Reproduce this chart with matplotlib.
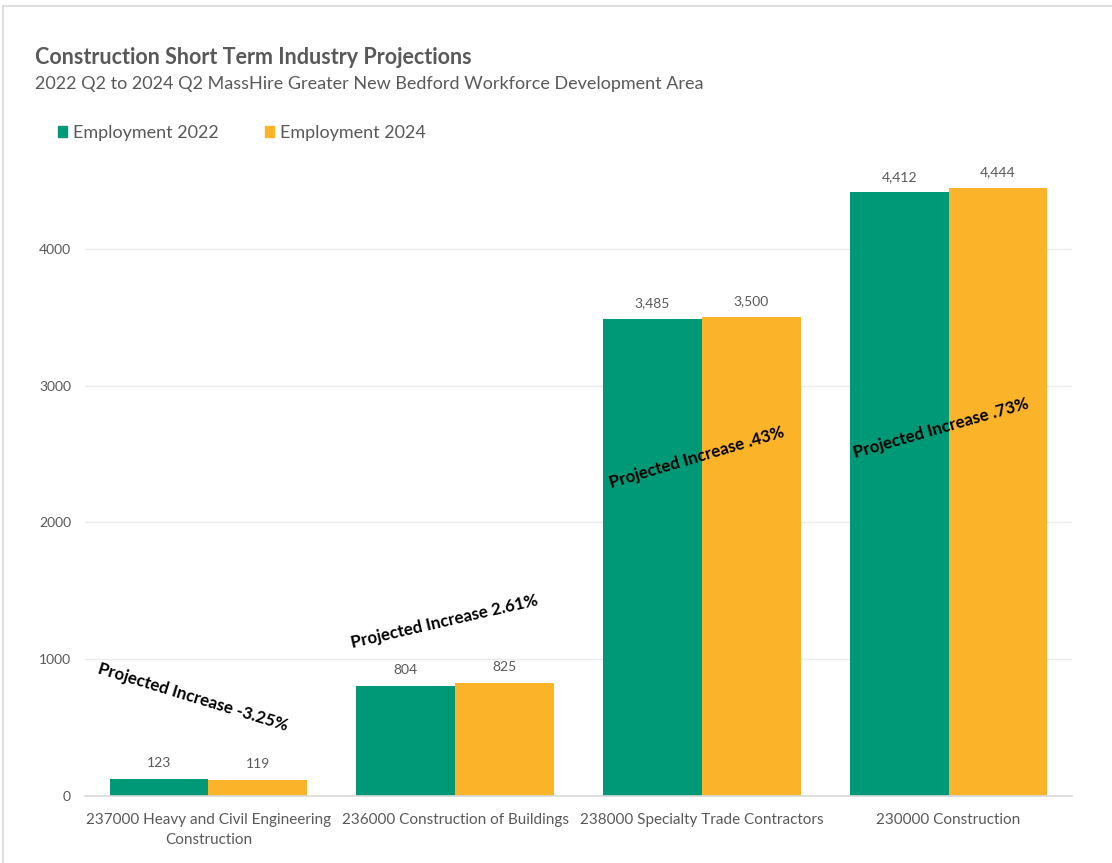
import matplotlib
matplotlib.use("Agg")
import matplotlib.pyplot as plt
from matplotlib.lines import Line2D
from matplotlib.patches import Patch
import numpy as np

plt.rcParams['font.family'] = ['Lato', 'DejaVu Sans']

categories = [
    "237000 Heavy and Civil Engineering\nConstruction",
    "236000 Construction of Buildings",
    "238000 Specialty Trade Contractors",
    "230000 Construction",
]
employment_2022 = [123, 804, 3485, 4412]
employment_2024 = [119, 825, 3500, 4444]
series_names = ["Employment 2022", "Employment 2024"]
change_labels = [
    "Projected Increase -3.25%",
    "Projected Increase 2.61%",
    "Projected Increase .43%",
    "Projected Increase .73%",
]
yticks = [0, 1000, 2000, 3000, 4000]

GREEN = "#009977"
ORANGE = "#FBB429"
GRAY = "#595959"

W, H = 1112, 863
fig = plt.figure(figsize=(W / 100, H / 100), dpi=100)

# axes placement in pixels: left 85, right 1072, bottom 796, top 153
ax = fig.add_axes([85 / W, 1 - 796 / H, (1072 - 85) / W, (796 - 153) / H])

x = np.arange(len(categories))
bw = 0.4
b1 = ax.bar(x - bw / 2, employment_2022, bw, color=GREEN, label=series_names[0])
b2 = ax.bar(x + bw / 2, employment_2024, bw, color=ORANGE, label=series_names[1])

for bars, vals in ((b1, employment_2022), (b2, employment_2024)):
    for rect, v in zip(bars, vals):
        ax.annotate(f"{v:,}", (rect.get_x() + rect.get_width() / 2, v),
                    xytext=(0, 7), textcoords="offset points",
                    ha="center", va="bottom", fontsize=10, color=GRAY)

ax.set_xlim(-0.5, len(categories) - 0.5)
ax.set_ylim(0, 4700)
ax.set_yticks(yticks)
ax.set_yticklabels([str(t) for t in yticks])
ax.set_xticks(x)
ax.set_xticklabels(categories, fontsize=11, color=GRAY, linespacing=1.55)
ax.tick_params(axis="y", colors=GRAY, labelsize=10, length=0, pad=10)
ax.tick_params(axis="x", length=0, pad=12)
ax.yaxis.grid(True, color="#EBEBEB", linewidth=1)
ax.set_axisbelow(True)
for s in ("top", "right", "left"):
    ax.spines[s].set_visible(False)
ax.spines["bottom"].set_color("#D9D9D9")
ax.spines["bottom"].set_linewidth(1.2)

# rotated change annotations (data coords, angle in degrees)
note_pos = [(-0.063, 724, -17), (0.957, 1272, 13), (1.978, 2472, 16.5), (2.97, 2691, 16)]
for txt, (px, py, ang) in zip(change_labels, note_pos):
    ax.text(px, py, txt, rotation=ang, rotation_mode="anchor", ha="center", va="center",
            fontsize=12.2, fontweight="bold", color="black")

fig.text(35 / W, 1 - 58 / H, "Construction Short Term Industry Projections",
         fontsize=15.5, fontweight="bold", color=GRAY, va="center", ha="left")
fig.text(35 / W, 1 - 84 / H,
         "2022 Q2 to 2024 Q2 MassHire Greater New Bedford Workforce Development Area",
         fontsize=13, color=GRAY, va="center", ha="left")

handles = [Patch(color=GREEN), Patch(color=ORANGE)]
fig.legend(handles, series_names, loc="center left", bbox_to_anchor=(42 / W, 1 - 133 / H),
           ncol=2, frameon=False, fontsize=13, labelcolor=GRAY, handlelength=0.5,
           handleheight=0.5, handletextpad=0.3, columnspacing=2.6)

# chart-area border
fig.add_artist(Line2D([3 / W, 1], [1 - 6 / H, 1 - 6 / H], color="#D9D9D9", lw=1.2))
fig.add_artist(Line2D([3 / W, 3 / W], [0, 1 - 6 / H], color="#D9D9D9", lw=1.2))

fig.savefig("out.png", dpi=100, facecolor="white")
